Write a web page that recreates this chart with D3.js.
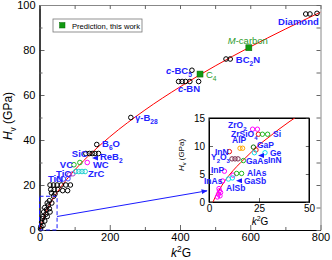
<!DOCTYPE html>
<html>
<head>
<meta charset="utf-8">
<script src="https://cdn.jsdelivr.net/npm/d3@7"></script>
<style>
  body { margin: 0; background: #fff; }
  text { font-family: "Liberation Sans", Arial, sans-serif; }
</style>
</head>
<body>
<svg id="chart" width="332" height="260"></svg>
<script>
// fit curve (k2G, Hv)
const fitCurve = [[2,0],[3,0.8],[5,2.1],[8,3.8],[12,5.6],[16,7.1],[20,8.5],[25,10.2],[30,11.6],[35,13],
  [40,14.3],[50,16.7],[75,22],[100,26.6],[150,34.5],[200,41.4],[300,53.3],[400,63.6],[500,72.9],[600,81.4],[700,89.3],[800,96.8]];

// main panel, open black circles
const blackPts = [[758,96],[770,96],[790,96.3],[531,76],[543,76],[434,71],
  [396,66],[406,66],[416,66],[428,66],[453,66],[260,50],[163,38],
  [132,34],[142,34],[150,34],[158,34],[168,34],
  [30,20],[40,20],[50,20],[62,20],[75,20],[88,20],
  [32,18],[42,18],[52,18],[66,17.5],[80,17.5],[34,16.5],[44,16],[40,15],
  [28,13],[22,12],[35,12],[25,11],[15,10],[28,9.5],[20,9],[12,8],[30,8],[18,7],
  [10,6],[22,6],[8,5],[15,4],[6,3.5],[10,2],[4,1.5],[3,0.5]];
const greenMain = [[98,29],[115,30]];
const magentaMain = [[136,30]];
const purpleMain = [[85,24.5],[95,25]];
const cyanMain = [[103,26],[112,26],[121,26],[130,26]];
const blueMain = [[55,22.5],[68,22.7],[81,22.8]];
const arrowMain = [[158,32]];
const predicted = [[596,81],[457,69.3]];

const mainLabels = [
  ["Diamond",795,91,"end"],["BC_{2}N",559,74.2],["*c*-BC_{5}",360,69.3],["*c*-BN",394,61.3],
  ["γ-B_{28}",272,48.4],["B_{6}O",178,36.9],["SiC",92,32.4],["ReB_{2}",172,31.1],
  ["VC",58,27.6],["WC",152,27.6],["TiC",47,23.6],["ZrC",138,23.6],["TiN",24,21.3]];
const greenLabels = [["*M*-carbon",536,82.7],["C_{4}",474,67.6]];

// inset panel
const insetMagenta = [[21.8,13],[24.2,13],[7.7,5.5],[6.8,3.75],[12,4.8],
  [5.2,2.0],[5.8,1.7],[4.7,1.4],[5.5,1.1],[4.2,0.9],[5,2.4]];
const insetRed = [[24.7,12.1],[10.2,9],[23.5,9.3]];
const insetGreen = [[26.7,12.1],[29.3,12.1],[17.2,7.4],[13.8,5.1],[16.3,5.1]];
const insetDarkGreen = [[22.2,9.8]];
const insetOrange = [[15.5,9.6],[16.8,9.6]];
const insetMaroon = [[11.5,7.7],[13,7.7],[14.5,7.7]];
const insetCyan = [[22.7,8.8],[28,8.8],[9.7,4.1],[11.7,4.3]];
const insetArrow = [[26,8.3],[15,3.8]];
const insetLabels = [
  ["ZrO_{2}",9.5,13.2],["ZrSiO_{4}",11,11.6],["Si",32,11.6],["AlP",11.5,10.5],["InN",3,8.4],
  ["GaP",24,9.6],["Ge",30.5,8.2],["InN",29.5,7.0],["Y_{2}O_{3}",1,7.5],["GaAs",18.5,6.8],
  ["InP",1,5.2],["AlAs",19,4.6],["InAs",-2.5,3.2],["AlSb",8.5,2.0],["GaSb",17.5,3.2]];

const svg = d3.select("#chart");
svg.append("rect").attr("width",332).attr("height",260).attr("fill","#fff");

const x = d3.scaleLinear().domain([0,800]).range([39.5,320.5]);
const y = d3.scaleLinear().domain([0,100]).range([230,5]);
const ix = d3.scaleLinear().domain([0,50]).range([209,309]);
const iy = d3.scaleLinear().domain([0,15]).range([202,118]);

function rich(sel, str, fs) {
  const parts = str.split(/(_\{[^}]*\}|\^\{[^}]*\}|\*[^*]*\*)/);
  let shift = 0;
  parts.forEach(p => {
    if (!p) return;
    const t = sel.append("tspan");
    let target = 0, txt = p;
    if (p.startsWith("_{")) { target = fs*0.3; txt = p.slice(2,-1); t.attr("font-size", fs*0.7); }
    else if (p.startsWith("^{")) { target = -fs*0.4; txt = p.slice(2,-1); t.attr("font-size", fs*0.7); }
    else if (p.startsWith("*")) { txt = p.slice(1,-1); t.attr("font-style","italic"); }
    if (target - shift !== 0) t.attr("dy", target - shift);
    shift = target;
    t.text(txt);
  });
}

function frame(g, xs, ys, xMaj, xMin, yMaj, yMin, fs, tlen) {
  g.append("g").attr("transform", `translate(0,${ys.range()[0]})`)
    .call(d3.axisBottom(xs).tickValues(xMaj).tickSize(-tlen).tickSizeOuter(0).tickPadding(3).tickFormat(d3.format("d")));
  g.append("g").attr("transform", `translate(0,${ys.range()[0]})`)
    .call(d3.axisBottom(xs).tickValues(xMin).tickSize(-tlen*0.6).tickSizeOuter(0).tickFormat(""));
  g.append("g").attr("transform", `translate(${xs.range()[0]},0)`)
    .call(d3.axisLeft(ys).tickValues(yMaj).tickSize(-tlen).tickSizeOuter(0).tickPadding(4).tickFormat(d3.format("d")));
  g.append("g").attr("transform", `translate(${xs.range()[0]},0)`)
    .call(d3.axisLeft(ys).tickValues(yMin).tickSize(-tlen*0.6).tickSizeOuter(0).tickFormat(""));
  g.append("g").attr("transform", `translate(0,${ys.range()[1]})`).attr("class","mirror")
    .call(d3.axisTop(xs).tickValues(xMaj.concat(xMin)).tickSize(-tlen*0.8).tickSizeOuter(0).tickFormat(""));
  g.append("g").attr("transform", `translate(${xs.range()[1]},0)`).attr("class","mirror")
    .call(d3.axisRight(ys).tickValues(yMaj.concat(yMin)).tickSize(-tlen*0.8).tickSizeOuter(0).tickFormat(""));
  g.selectAll(".tick line").attr("stroke","#666");
  g.selectAll(".mirror .domain").attr("stroke","#888");
  g.selectAll(".tick text").attr("font-size", fs).attr("fill","#000")
    .attr("font-family","Liberation Sans, Arial, sans-serif");
}

// ---- main panel ----
const main = svg.append("g");
frame(main, x, y, [0,200,400,600,800], [100,300,500,700],
  [0,20,40,60,80,100], [10,30,50,70,90], 11, 5);

svg.append("clipPath").attr("id","clipMain").append("rect")
  .attr("x",39.5).attr("y",5).attr("width",281).attr("height",225);

const line = (xs, ys) => d3.line().x(d => xs(d[0])).y(d => ys(d[1])).curve(d3.curveMonotoneX);
main.append("path").datum(fitCurve).attr("d", line(x,y))
  .attr("fill","none").attr("stroke","#f00").attr("stroke-width",1).attr("clip-path","url(#clipMain)");

function circles(g, data, xs, ys, color, r) {
  g.selectAll(null).data(data).enter().append("circle")
    .attr("cx", d => xs(d[0])).attr("cy", d => ys(d[1])).attr("r", r)
    .attr("fill","none").attr("stroke", color).attr("stroke-width",1);
}
function arrows(g, data, xs, ys) {
  g.selectAll(null).data(data).enter().append("path")
    .attr("d", d => { const a = xs(d[0]), b = ys(d[1]); return `M${a-3},${b}L${a+3},${b-2.5}L${a+3},${b+2.5}Z`; })
    .attr("fill","#1a1aff");
}

circles(main, blackPts, x, y, "#000", 2.3);
circles(main, greenMain, x, y, "#1fb81f", 2.3);
circles(main, magentaMain, x, y, "#ff00ff", 2.3);
circles(main, purpleMain, x, y, "#b040d0", 2.3);
circles(main, cyanMain, x, y, "#20d0d0", 2.3);
circles(main, blueMain, x, y, "#4a4aff", 2.3);
arrows(main, arrowMain, x, y);

main.selectAll(null).data(predicted).enter().append("rect")
  .attr("x", d => x(d[0]) - 3).attr("y", d => y(d[1]) - 3).attr("width",6).attr("height",6)
  .attr("fill","#119911").attr("stroke","#0a6a0a").attr("stroke-width",0.5);

mainLabels.forEach(l => {
  const t = main.append("text").attr("x", x(l[1])).attr("y", y(l[2]))
    .attr("text-anchor", l[3] || "start").attr("font-size",9.5).attr("font-weight","bold").attr("fill","#2323ff");
  rich(t, l[0], 9.5);
});
greenLabels.forEach(l => {
  const t = main.append("text").attr("x", x(l[1])).attr("y", y(l[2]))
    .attr("font-size",9.5).attr("fill","#2a9a2a");
  rich(t, l[0], 9.5);
});

// legend
const leg = main.append("g");
leg.append("rect").attr("x",53).attr("y",19).attr("width",89).attr("height",13)
  .attr("fill","#fff").attr("stroke","#777").attr("stroke-width",0.8);
leg.append("rect").attr("x",59.5).attr("y",22.5).attr("width",5.5).attr("height",5.5)
  .attr("fill","#119911").attr("stroke","#0a6a0a").attr("stroke-width",0.5);
leg.append("text").attr("x",72).attr("y",28.5).attr("font-size",7.6)
  .attr("font-family","Liberation Serif, Times New Roman, serif").text("Prediction, this work");

// axis titles
const xt = svg.append("text").attr("x",181).attr("y",257).attr("text-anchor","middle").attr("font-size",12);
rich(xt, "*k*^{2}G", 12);
const yt = svg.append("text").attr("transform","translate(12,116) rotate(-90)").attr("text-anchor","middle")
  .attr("font-size",12).attr("font-family","Liberation Serif, Times New Roman, serif");
rich(yt, "*H*_{v} (GPa)", 12);

// zoom box and connector
main.append("rect").attr("x", x(0)).attr("y", y(15)).attr("width", x(50)-x(0)).attr("height", y(0)-y(15))
  .attr("fill","none").attr("stroke","#1a1aff").attr("stroke-width",1).attr("stroke-dasharray","4,2.5");
svg.append("defs").append("marker").attr("id","arr").attr("viewBox","0 0 10 10")
  .attr("refX",9).attr("refY",5).attr("markerWidth",6).attr("markerHeight",6).attr("orient","auto")
  .append("path").attr("d","M0,1L10,5L0,9Z").attr("fill","#1a1aff");
svg.append("line").attr("x1", x(50)).attr("y1", y(6)).attr("x2", ix(-1)).attr("y2", iy(2))
  .attr("stroke","#1a1aff").attr("stroke-width",1).attr("marker-end","url(#arr)");

// ---- inset ----
const inset = svg.append("g");
inset.append("rect").attr("x",209).attr("y",118).attr("width",100).attr("height",84).attr("fill","#fff");
frame(inset, ix, iy, [0,25,50], [], [0,5,10,15], [], 10, 4);
inset.selectAll(".domain").attr("stroke","#000");
inset.append("rect").attr("x",209).attr("y",118).attr("width",100).attr("height",84)
  .attr("fill","none").attr("stroke","#000").attr("stroke-width",1);

svg.append("clipPath").attr("id","clipInset").append("rect")
  .attr("x",209).attr("y",118).attr("width",100).attr("height",84);
inset.append("path").datum(fitCurve).attr("d", line(ix,iy))
  .attr("fill","none").attr("stroke","#f00").attr("stroke-width",1).attr("clip-path","url(#clipInset)");

circles(inset, insetMagenta, ix, iy, "#ff00ff", 2.2);
circles(inset, insetRed, ix, iy, "#ee1111", 2.2);
circles(inset, insetGreen, ix, iy, "#1fb81f", 2.2);
circles(inset, insetDarkGreen, ix, iy, "#0a6a0a", 2.2);
circles(inset, insetOrange, ix, iy, "#ffa500", 2.2);
circles(inset, insetMaroon, ix, iy, "#7a2a4a", 2.2);
circles(inset, insetCyan, ix, iy, "#10e0f0", 2.2);
arrows(inset, insetArrow, ix, iy);

insetLabels.forEach(l => {
  const t = inset.append("text").attr("x", ix(l[1])).attr("y", iy(l[2]))
    .attr("font-size",8.5).attr("font-weight","bold").attr("fill","#2323ff");
  rich(t, l[0], 8.5);
});

const ixt = svg.append("text").attr("x",260).attr("y",225).attr("text-anchor","middle").attr("font-size",10);
rich(ixt, "*k*^{2}G", 10);
const iyt = svg.append("text").attr("transform","translate(184,155) rotate(-90)").attr("text-anchor","middle")
  .attr("font-size",8).attr("font-family","Liberation Serif, Times New Roman, serif");
rich(iyt, "*H*_{v} (GPa)", 8);
</script>
</body>
</html>
